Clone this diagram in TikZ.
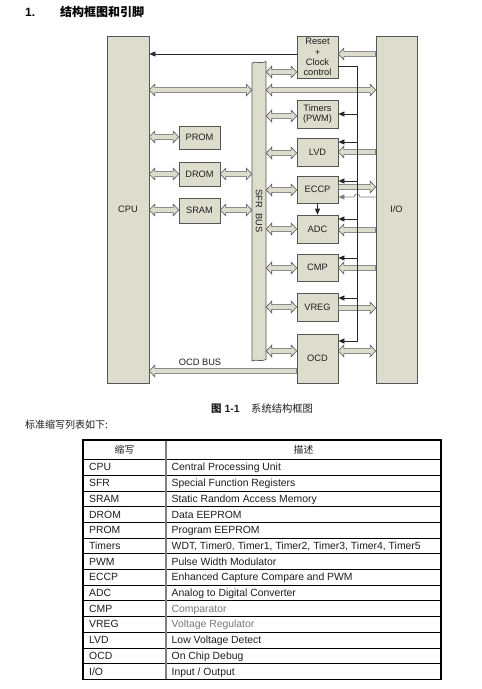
\documentclass[tikz,border=0pt]{standalone}
\usepackage{fontspec}
\setmainfont{Liberation Sans}
\newfontfamily\cjk{Noto Sans CJK SC}
\usetikzlibrary{arrows.meta,calc}
\definecolor{boxfill}{RGB}{221,221,206}
\definecolor{boxline}{RGB}{85,85,85}
\definecolor{wirec}{RGB}{40,40,40}
\definecolor{txt}{RGB}{30,30,30}
\definecolor{graytxt}{RGB}{120,120,120}
\tikzset{
  blk/.style={draw=boxline, fill=boxfill, line width=0.7pt, inner sep=0pt, text=txt,
              font=\fontsize{9.3}{10.3}\selectfont, align=center},
  fat/.style={draw=boxline, fill=boxfill, line width=0.6pt, line join=miter},
  wire/.style={draw=wirec, line width=0.7pt},
  tip/.style={-{Triangle[length=6pt,width=5pt]}},
  tabtxt/.style={font=\fontsize{10.4}{12}\selectfont, inner sep=0pt, anchor=base west},
}
% double headed fat arrow, #1 left end, #2 right end
\newcommand\fatLR[2]{\draw[fat] let \p1=#1, \p2=#2 in
  (\x1,\y1) -- (\x1+5.5pt,\y1+5.8pt) -- (\x1+5.5pt,\y1+2.4pt) -- (\x2-5.5pt,\y1+2.4pt) --
  (\x2-5.5pt,\y1+5.8pt) -- (\x2,\y1) -- (\x2-5.5pt,\y1-5.8pt) -- (\x2-5.5pt,\y1-2.4pt) --
  (\x1+5.5pt,\y1-2.4pt) -- (\x1+5.5pt,\y1-5.8pt) -- cycle;}
% single headed fat arrow, tail #1, head #2 to the right
\newcommand\fatR[2]{\draw[fat] let \p1=#1, \p2=#2 in
  (\x1,\y1+2.4pt) -- (\x2-5.5pt,\y1+2.4pt) -- (\x2-5.5pt,\y1+5.8pt) -- (\x2,\y1) --
  (\x2-5.5pt,\y1-5.8pt) -- (\x2-5.5pt,\y1-2.4pt) -- (\x1,\y1-2.4pt) -- cycle;}
% single headed fat arrow, tail #1, head #2 to the left
\newcommand\fatL[2]{\draw[fat] let \p1=#1, \p2=#2 in
  (\x1,\y1+2.4pt) -- (\x2+5.5pt,\y1+2.4pt) -- (\x2+5.5pt,\y1+5.8pt) -- (\x2,\y1) --
  (\x2+5.5pt,\y1-5.8pt) -- (\x2+5.5pt,\y1-2.4pt) -- (\x1,\y1-2.4pt) -- cycle;}
\begin{document}
\begin{tikzpicture}[x=1pt,y=-1pt]
\useasboundingbox (0,0) rectangle (482,689);
\fill[white] (0,0) rectangle (482,689);

% title
\node[anchor=west, inner sep=0, font=\bfseries\fontsize{12}{14}\selectfont] (tnum) at (25,12) {1.};
\node[anchor=west, inner sep=0, font=\cjk\bfseries\fontsize{12}{14}\selectfont] (ttl) at (60,12) {结构框图和引脚};

% blocks
\node[blk, minimum width=42pt, minimum height=347pt] (cpu) at (128,209.5) {CPU};
\node[blk, minimum width=41pt, minimum height=347pt] (io) at (396.5,209.5) {I/O};
\node[blk, minimum width=41pt, minimum height=42pt] (reset) at (317.5,57) {Reset\\+\\Clock\\control};
\node[blk, minimum width=41pt, minimum height=28pt] (timers) at (317.5,114) {Timers\\(PWM)};
\node[blk, minimum width=41pt, minimum height=28pt] (lvd) at (317.5,152) {LVD};
\node[blk, minimum width=41pt, minimum height=27pt] (eccp) at (317.5,189.5) {ECCP};
\node[blk, minimum width=41pt, minimum height=28pt] (adc) at (317.5,229) {ADC};
\node[blk, minimum width=41pt, minimum height=27pt] (cmp) at (317.5,267.5) {CMP};
\node[blk, minimum width=41pt, minimum height=28pt] (vreg) at (317.5,307) {VREG};
\node[blk, minimum width=41pt, minimum height=49pt] (ocd) at (317.5,358.5) {OCD};
\node[blk, minimum width=41pt, minimum height=23pt] (prom) at (199.5,137.5) {PROM};
\node[blk, minimum width=41pt, minimum height=24pt] (drom) at (199.5,174) {DROM};
\node[blk, minimum width=41pt, minimum height=25pt] (sram) at (199.5,210.5) {SRAM};

% SFR bus
\node[minimum width=14pt, minimum height=298pt, inner sep=0pt] (sfr) at (259,211) {};
\filldraw[fill=boxfill, draw=boxline, line width=0.7pt]
  (252,63) .. controls (256,60.5) and (261,64.5) .. (266,61.5) -- (266,359.5)
  .. controls (261,362.5) and (256,358.5) .. (252,361) -- cycle;
\node[rotate=-90, inner sep=0pt, text=txt, font=\fontsize{9.3}{10.3}\selectfont] (sfrlbl) at (259,211) {SFR\ \ BUS};

% fat arrows
\fatLR{(cpu.east |- 0,90)}{(sfr.west |- 0,90)}
\fatLR{(sfr.east |- 0,90)}{(io.west |- 0,90)}
\fatLR{(sfr.east |- 0,72)}{(reset.west |- 0,72)}
\fatL{(io.west |- 0,54)}{(reset.east |- 0,54)}
\fatLR{(sfr.east |- 0,116)}{(timers.west |- 0,116)}
\fatLR{(sfr.east |- 0,153)}{(lvd.west |- 0,153)}
\fatLR{(sfr.east |- 0,190)}{(eccp.west |- 0,190)}
\fatLR{(sfr.east |- 0,229)}{(adc.west |- 0,229)}
\fatLR{(sfr.east |- 0,268)}{(cmp.west |- 0,268)}
\fatLR{(sfr.east |- 0,307)}{(vreg.west |- 0,307)}
\fatLR{(sfr.east |- 0,351)}{(ocd.west |- 0,351)}
\fatLR{(cpu.east |- 0,137)}{(prom.west |- 0,137)}
\fatLR{(cpu.east |- 0,174)}{(drom.west |- 0,174)}
\fatLR{(drom.east |- 0,174)}{(sfr.west |- 0,174)}
\fatLR{(cpu.east |- 0,210)}{(sram.west |- 0,210)}
\fatLR{(sram.east |- 0,210)}{(sfr.west |- 0,210)}
\fatL{(io.west |- 0,152)}{(lvd.east |- 0,152)}
\fatR{(eccp.east |- 0,187)}{(io.west |- 0,187)}
\fatL{(io.west |- 0,230)}{(adc.east |- 0,230)}
\fatL{(io.west |- 0,268)}{(cmp.east |- 0,268)}
\fatR{(vreg.east |- 0,308)}{(io.west |- 0,308)}
\fatLR{(ocd.east |- 0,351)}{(io.west |- 0,351)}
\fatL{(ocd.west |- 0,371)}{(cpu.east |- 0,371)}
\node[inner sep=0pt, text=txt, font=\fontsize{9.3}{10.3}\selectfont] (ocdbus) at (200,362) {OCD BUS};

% thin wires
\draw[wire, tip] (reset.west |- 0,54) -- (cpu.east |- 0,54);
\coordinate (vtop) at (357,66);
\coordinate (vbot) at (357,341);
\draw[wire, tip] (reset.east |- vtop) -- (vtop) -- (vbot) -- (ocd.east |- vbot);
\draw[wire, tip] (vtop |- 0,114) -- (timers.east |- 0,114);
\draw[wire, tip] (vtop |- 0,142) -- (lvd.east |- 0,142);
\draw[wire, tip] (vtop |- 0,181) -- (eccp.east |- 0,181);
\draw[wire, tip] (vtop |- 0,219) -- (adc.east |- 0,219);
\draw[wire, tip] (vtop |- 0,258) -- (cmp.east |- 0,258);
\draw[wire, tip] (vtop |- 0,298) -- (vreg.east |- 0,298);
\draw[wire, draw=gray, tip] (io.west |- 0,197) -- (360,197)
  arc[start angle=0, end angle=180, radius=3pt] -- (eccp.east |- 0,197);
\draw[wire, tip] (eccp.south) -- (adc.north);

% caption
\node[anchor=west, inner sep=0, text=txt, font=\bfseries\fontsize{10.5}{12}\selectfont] (cap1) at (211,409) {{\cjk 图} 1-1};
\node[anchor=west, inner sep=0, text=txt, font=\cjk\fontsize{10.3}{12}\selectfont] (cap2) at (251,409) {系统结构框图};
\node[anchor=west, inner sep=0, text=txt, font=\cjk\fontsize{10}{12}\selectfont] (intro) at (25,425) {标准缩写列表如下:};

% table
\def\rh{15.7}
\def\rt{459.5}
\draw[line width=0.8pt] (83,\rt) -- (441,\rt);
\foreach \k in {1,...,13} {\draw[line width=0.8pt] (83,\rt+\k*\rh) -- (441,\rt+\k*\rh);}
\draw[line width=1.6pt, draw=gray] (166,440) -- (166,679.3);
\draw[line width=1.1pt] (83,440) rectangle (441,679.3);
\node[inner sep=0, text=txt, font=\cjk\fontsize{9.8}{12}\selectfont] (h1) at (124.5,450) {缩写};
\node[inner sep=0, text=txt, font=\cjk\fontsize{9.8}{12}\selectfont] (h2) at (303.5,450) {描述};
\foreach \a/\b/\c [count=\i] in {
  CPU/Central Processing Unit/txt,
  SFR/Special Function Registers/txt,
  SRAM/Static Random Access Memory/txt,
  DROM/Data EEPROM/txt,
  PROM/Program EEPROM/txt,
  Timers/{WDT, Timer0, Timer1, Timer2, Timer3, Timer4, Timer5}/txt,
  PWM/Pulse Width Modulator/txt,
  ECCP/Enhanced Capture Compare and PWM/txt,
  ADC/Analog to Digital Converter/txt,
  CMP/Comparator/graytxt,
  VREG/Voltage Regulator/graytxt,
  LVD/Low Voltage Detect/txt,
  OCD/On Chip Debug/txt,
  {I/O}/{Input / Output}/txt} {
  \node[tabtxt, text=txt] (ra\i) at (89,\rt+\i*\rh-0.5*\rh+3.6) {\a};
  \node[tabtxt, text=\c] (rb\i) at (171.5,\rt+\i*\rh-0.5*\rh+3.6) {\b};
}
\end{tikzpicture}
\end{document}
